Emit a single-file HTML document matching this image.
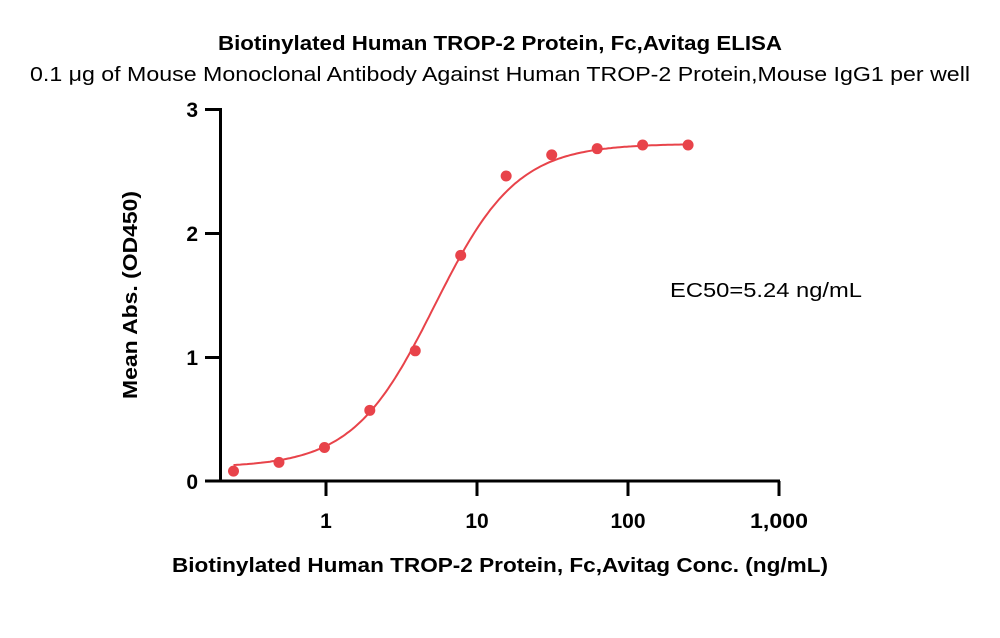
<!DOCTYPE html>
<html><head><meta charset="utf-8"><style>body{margin:0;background:#fff}svg{display:block}text{font-family:"Liberation Sans",sans-serif}</style></head>
<body>
<svg id="s" width="1000" height="638" xmlns="http://www.w3.org/2000/svg">
<text x="500" y="50" text-anchor="middle" font-size="20" font-weight="bold" textLength="564" lengthAdjust="spacingAndGlyphs">Biotinylated Human TROP-2 Protein, Fc,Avitag ELISA</text>
<text x="500" y="81" text-anchor="middle" font-size="20" textLength="940" lengthAdjust="spacingAndGlyphs">0.1 μg of Mouse Monoclonal Antibody Against Human TROP-2 Protein,Mouse IgG1 per well</text>
<g stroke="#000" stroke-width="3" fill="none">
<path d="M205,109.5H220.5V481"/>
<path d="M205,233.5H220M205,357.5H220"/>
<path d="M205,481H780"/>
<path d="M326,481v15M477,481v15M628,481v15M779,481v15"/>
</g>
<g font-size="21" font-weight="bold" text-anchor="end">
<text x="198" y="117">3</text><text x="198" y="241">2</text><text x="198" y="365">1</text><text x="198" y="489">0</text>
</g>
<g font-size="21" font-weight="bold" text-anchor="middle">
<text x="326" y="528">1</text><text x="477" y="528">10</text><text x="628" y="528">100</text><text x="779" y="528" textLength="58" lengthAdjust="spacingAndGlyphs">1,000</text>
</g>
<text x="500" y="572" text-anchor="middle" font-size="20" font-weight="bold" textLength="656" lengthAdjust="spacingAndGlyphs">Biotinylated Human TROP-2 Protein, Fc,Avitag Conc. (ng/mL)</text>
<text transform="translate(137,295) rotate(-90)" text-anchor="middle" font-size="20" font-weight="bold" textLength="208" lengthAdjust="spacingAndGlyphs">Mean Abs. (OD450)</text>
<text x="670" y="297" font-size="20" textLength="192" lengthAdjust="spacingAndGlyphs">EC50=5.24 ng/mL</text>
<path id="c" fill="none" stroke="#e8434a" stroke-width="2"/>
<g id="p" fill="#e8434a"></g>
</svg>
<script>
var X=function(c){return 326+151*Math.log10(c)},Y=function(v){return 481-124*v};
var f=function(c){return 0.11+(2.72-0.11)/(1+Math.pow(5.24/c,1.6))};
var d="";for(var i=0;i<=200;i++){var c=0.244*Math.pow(250/0.244,i/200);d+=(i?"L":"M")+X(c).toFixed(1)+","+Y(f(c)).toFixed(1);}
document.getElementById("c").setAttribute("d",d);
var pts=[[0.244,0.08],[0.488,0.15],[0.977,0.27],[1.95,0.57],[3.9,1.05],[7.8,1.82],[15.6,2.46],[31.25,2.63],[62.5,2.68],[125,2.71],[250,2.71]];
var g=document.getElementById("p"),h="";pts.forEach(function(p){h+='<circle cx="'+X(p[0])+'" cy="'+Y(p[1])+'" r="5.5"/>'});g.innerHTML=h;
</script>
</body></html>
